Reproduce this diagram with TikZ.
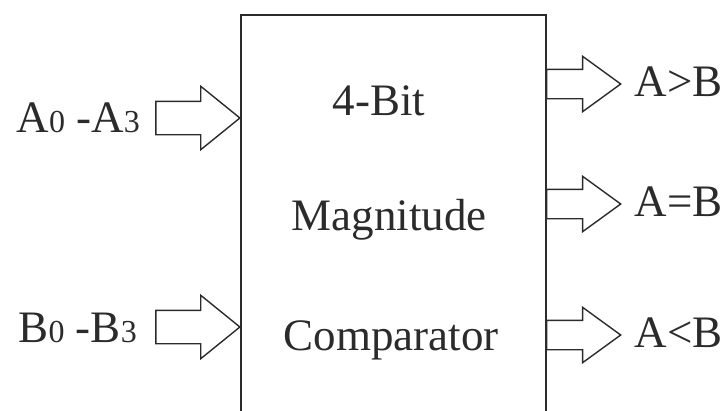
\documentclass[tikz,border=0pt]{standalone}
\usepackage{fontspec}
\setmainfont{Liberation Serif}
\usetikzlibrary{shapes.arrows,positioning}
\definecolor{cizgi}{HTML}{2B2B2B}
\newcommand{\kucukrakam}[1]{{\fontsize{32}{32}\selectfont #1}}

\begin{document}
\begin{tikzpicture}[x=1pt,y=-1pt, every node/.style={font=\fontsize{45}{50}\selectfont,text=cizgi},
  giris/.style={single arrow,draw=cizgi,line width=1.4pt,inner xsep=0pt,inner ysep=16pt,
                minimum height=84pt,single arrow head extend=15pt,single arrow tip angle=78,anchor=tip},
  cikis/.style={single arrow,draw=cizgi,line width=1.4pt,inner xsep=0pt,inner ysep=14pt,
                minimum height=74pt,single arrow head extend=13pt,single arrow tip angle=72,anchor=tail}]
\useasboundingbox (0,0) rectangle (722,410);
% blok (alt kenari yok)
\draw[line width=2.4pt,cizgi] (241,414) -- (241,15) -- (546,15) -- (546,414);
\node[anchor=base] (bit) at (379,115) {4-Bit};
\node[anchor=base] (mag) at (389,230) {Magnitude};
\node[anchor=base] (komp) at (391,350) {Comparator};
% girisler
\node[giris] (agiris) at (241,118) {};
\node[giris] (bgiris) at (241,327) {};
\node[anchor=base west] (ayazi) at (13,132) {A\kucukrakam{0} -A\kucukrakam{3}};
\node[anchor=base west] (byazi) at (15,342) {B\kucukrakam{0} -B\kucukrakam{3}};
% cikislar
\foreach \ad/\yy/\etiket in {buyuk/84/A>B, esit/204/A=B, kucuk/335/A<B} {
  \node[cikis] (\ad) at (546,\yy) {};
  \node[anchor=base west] (\ad yazi) at (631,\yy+12) {\etiket};
}
\end{tikzpicture}
\end{document}
